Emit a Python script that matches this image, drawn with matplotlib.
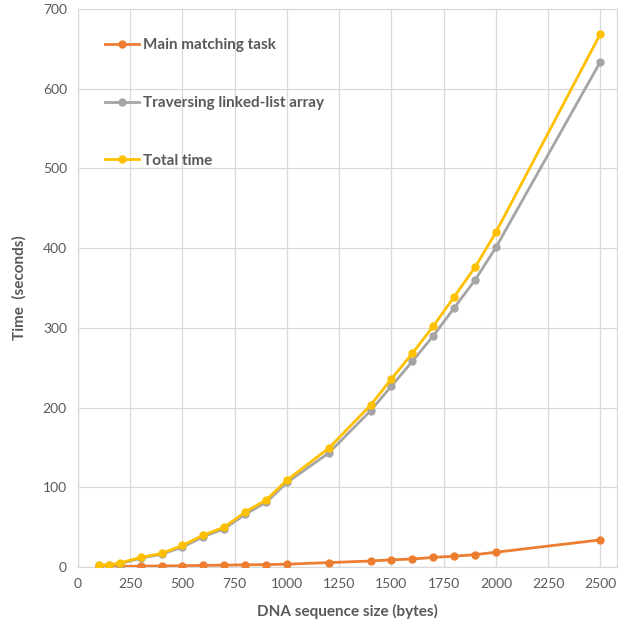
import matplotlib.pyplot as plt

# DNA sequence sizes (bytes)
sizes = [100, 150, 200, 300, 400, 500, 600, 700, 800, 900, 1000,
         1200, 1400, 1500, 1600, 1700, 1800, 1900, 2000, 2500]

# times in seconds
main_matching = [0.5, 0.6, 0.8, 1, 1.3, 1.6, 2, 2.3, 2.7, 3, 3.5,
                 5.5, 7.5, 9, 10, 12, 13.5, 15.5, 18.5, 34]
traversing = [2, 2, 4, 11, 16, 25, 38, 48, 66, 81, 106,
              143, 196, 227, 258, 290, 325, 360, 401, 634]
total_time = [2.5, 3, 5, 12, 17, 27, 40, 50, 69, 84, 109,
              149, 203, 236, 268, 302, 339, 376, 420, 669]

x_ticks = [0, 250, 500, 750, 1000, 1250, 1500, 1750, 2000, 2250, 2500]
y_ticks = [0, 100, 200, 300, 400, 500, 600, 700]

plt.rcParams['font.family'] = ['Lato', 'DejaVu Sans']
text_gray = '#595959'

fig = plt.figure(figsize=(6.24, 6.29), dpi=100)
ax = fig.add_axes([0.125, 0.0986, 0.864, 0.887])

ax.plot(sizes, main_matching, color='#ED7D31', marker='o', markersize=5,
        linewidth=2, label='Main matching task', zorder=3)
ax.plot(sizes, traversing, color='#A5A5A5', marker='o', markersize=5,
        linewidth=2, label='Traversing linked-list array', zorder=4)
ax.plot(sizes, total_time, color='#FFC000', marker='o', markersize=5,
        linewidth=2, label='Total time', zorder=5)

ax.set_xlim(0, 2580)
ax.set_ylim(0, 700)
ax.set_xticks(x_ticks)
ax.set_yticks(y_ticks)
ax.grid(True, color='#D9D9D9', linewidth=0.9)
ax.set_axisbelow(True)
ax.tick_params(length=0, colors=text_gray, labelsize=10, pad=8)
for s in ax.spines.values():
    s.set_color('#D9D9D9')
    s.set_linewidth(0.9)

ax.set_xlabel('DNA sequence size (bytes)', fontsize=11, fontweight='bold',
              color=text_gray, labelpad=10)
ax.set_ylabel('Time  (seconds)', fontsize=11, fontweight='bold',
              color=text_gray, labelpad=12)

leg = ax.legend(loc='upper left', bbox_to_anchor=(0.025, 0.972), frameon=False,
                labelspacing=2.85, handlelength=2.2, handletextpad=0.25,
                prop={'size': 11, 'weight': 'bold'})
for t in leg.get_texts():
    t.set_color(text_gray)

fig.savefig('out.png', dpi=100)
